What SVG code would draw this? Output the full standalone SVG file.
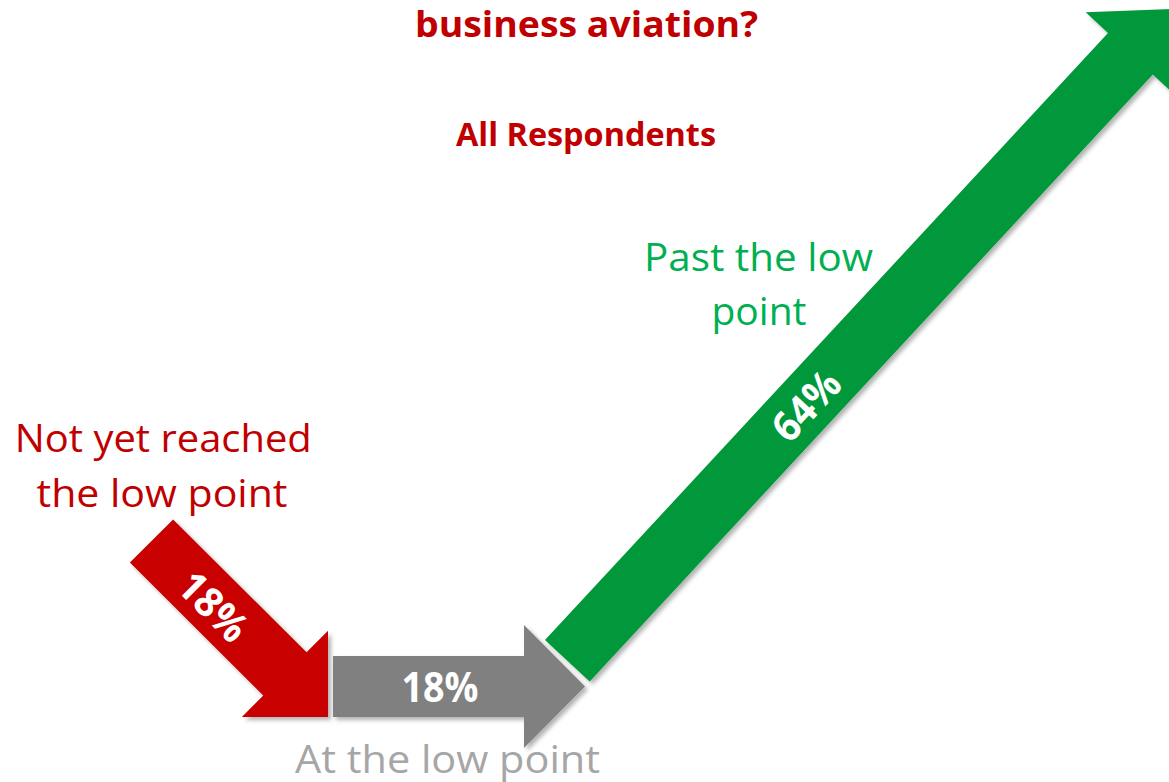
<svg xmlns="http://www.w3.org/2000/svg" width="1169" height="782" viewBox="0 0 1169 782">
<defs>
<filter id="sh" x="-10%" y="-10%" width="130%" height="130%">
<feDropShadow dx="3" dy="3" stdDeviation="2" flood-color="#000" flood-opacity="0.3"/>
</filter>
<style>
text{font-family:"Open Sans","Noto Sans","Liberation Sans",sans-serif;text-anchor:middle}
.title{font-weight:bold;fill:#C00000}
.lbl{font-size:39px}
.val{font-weight:bold;fill:#FFFFFF;font-size:41px}
</style>
</defs>
<rect width="1169" height="782" fill="#FFFFFF"/>
<g id="titles">
<text class="title" x="586.5" y="37" font-size="36" textLength="343" lengthAdjust="spacingAndGlyphs">business aviation?</text>
<text class="title" x="586" y="146" font-size="33" textLength="260" lengthAdjust="spacingAndGlyphs">All Respondents</text>
</g>
<g id="not-yet">
<polygon points="173.1,519.4 306.5,652.3 328,630.8 328,717 241.8,717 263.3,695.5 129.9,562.6" fill="#C80000" filter="url(#sh)"/>
<text class="val" transform="translate(213,607) rotate(45)" x="0" y="14" textLength="80" lengthAdjust="spacingAndGlyphs">18%</text>
<text class="lbl" fill="#C00000" x="163.3" y="451.7" textLength="297" lengthAdjust="spacingAndGlyphs">Not yet reached</text>
<text class="lbl" fill="#C00000" x="162" y="506.7" textLength="251" lengthAdjust="spacingAndGlyphs">the low point</text>
</g>
<g id="at-low">
<polygon points="333,656 524,656 524,625 585,686.5 524,748 524,717 333,717" fill="#808080" filter="url(#sh)"/>
<text class="val" x="440" y="701.7" textLength="77" lengthAdjust="spacingAndGlyphs">18%</text>
<text class="lbl" fill="#A6A6A6" x="447.5" y="773.3" textLength="305" lengthAdjust="spacingAndGlyphs">At the low point</text>
</g>
<g id="past">
<polygon points="545,640 1108,33.1 1085.7,12.3 1171.9,9.1 1175.1,95.3 1152.8,74.5 589.7,681.5" fill="#00983A" filter="url(#sh)"/>
<text class="val" transform="translate(806.5,406) rotate(-47.1)" x="0" y="14" textLength="80" lengthAdjust="spacingAndGlyphs">64%</text>
<text class="lbl" fill="#00B050" x="758.5" y="270.7" textLength="229" lengthAdjust="spacingAndGlyphs">Past the low</text>
<text class="lbl" fill="#00B050" x="759" y="325" textLength="95" lengthAdjust="spacingAndGlyphs">point</text>
</g>
<g id="connectors"></g>
</svg>
